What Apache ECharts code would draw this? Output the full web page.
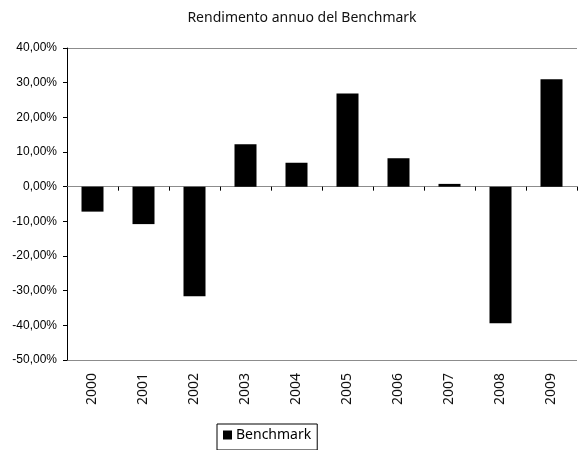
<!DOCTYPE html>
<html>
<head>
<meta charset="utf-8">
<script src="https://cdn.jsdelivr.net/npm/echarts@6/dist/echarts.min.js"></script>
<style>html,body{margin:0;padding:0;background:#fff}#c{width:578px;height:450px}</style>
</head>
<body>
<div id="c"></div>
<script>
var years = ['2000','2001','2002','2003','2004','2005','2006','2007','2008','2009'];
var benchmark = [-7.2, -10.8, -31.6, 12.2, 6.9, 26.9, 8.2, 0.8, -39.4, 31.0];
var titleText = 'Rendimento annuo del Benchmark';
var seriesName = 'Benchmark';

var chart = echarts.init(document.getElementById('c'));
var gridLineColors = [];
for (var i = 0; i < 10; i++) gridLineColors.push(i === 0 || i === 9 ? '#8c8c8c' : 'rgba(0,0,0,0)');
chart.setOption({
  animation: false,
  backgroundColor: '#fff',
  title: {
    text: titleText, left: 297, textAlign: 'center', top: 6,
    textStyle: {fontFamily: 'Noto Sans', fontSize: 14, fontWeight: 'normal', color: '#111'}
  },
  legend: {
    data: [seriesName], left: 217, top: 424,
    icon: 'rect', itemWidth: 9, itemHeight: 9, itemGap: 5,
    padding: [4, 6, 8, 6],
    borderColor: '#000', borderWidth: 1,
    textStyle: {fontFamily: 'Noto Sans', fontSize: 14, color: '#000', padding: [0, 0, 0, -1]}
  },
  grid: {left: 67, right: 1, top: 48, bottom: 90},
  xAxis: [{
    type: 'category', data: years, position: 'bottom',
    axisLine: {show: false, onZero: false},
    axisTick: {show: false},
    axisLabel: {rotate: 90, margin: 13, fontFamily: 'Noto Sans', fontSize: 14, color: '#111'}
  }, {
    type: 'category', data: years, position: 'top',
    axisLine: {show: true, onZero: true, lineStyle: {color: '#8c8c8c', width: 1}},
    axisTick: {show: true, inside: true, length: 4, lineStyle: {color: '#000'}},
    axisLabel: {show: false}
  }],
  yAxis: {
    type: 'value', min: -50, max: 40, interval: 10,
    axisLine: {show: true, lineStyle: {color: '#000'}},
    axisTick: {show: true, length: 4, lineStyle: {color: '#000'}},
    splitLine: {show: true, lineStyle: {color: gridLineColors, width: 1}},
    axisLabel: {
      margin: 10, fontFamily: 'Liberation Sans', fontSize: 12, color: '#000',
      formatter: function (v) { return v.toFixed(2).replace('.', ',') + '%'; }
    }
  },
  series: [{
    name: seriesName, type: 'bar', data: benchmark, barWidth: 22,
    itemStyle: {color: '#000'}
  }]
});
</script>
</body>
</html>
